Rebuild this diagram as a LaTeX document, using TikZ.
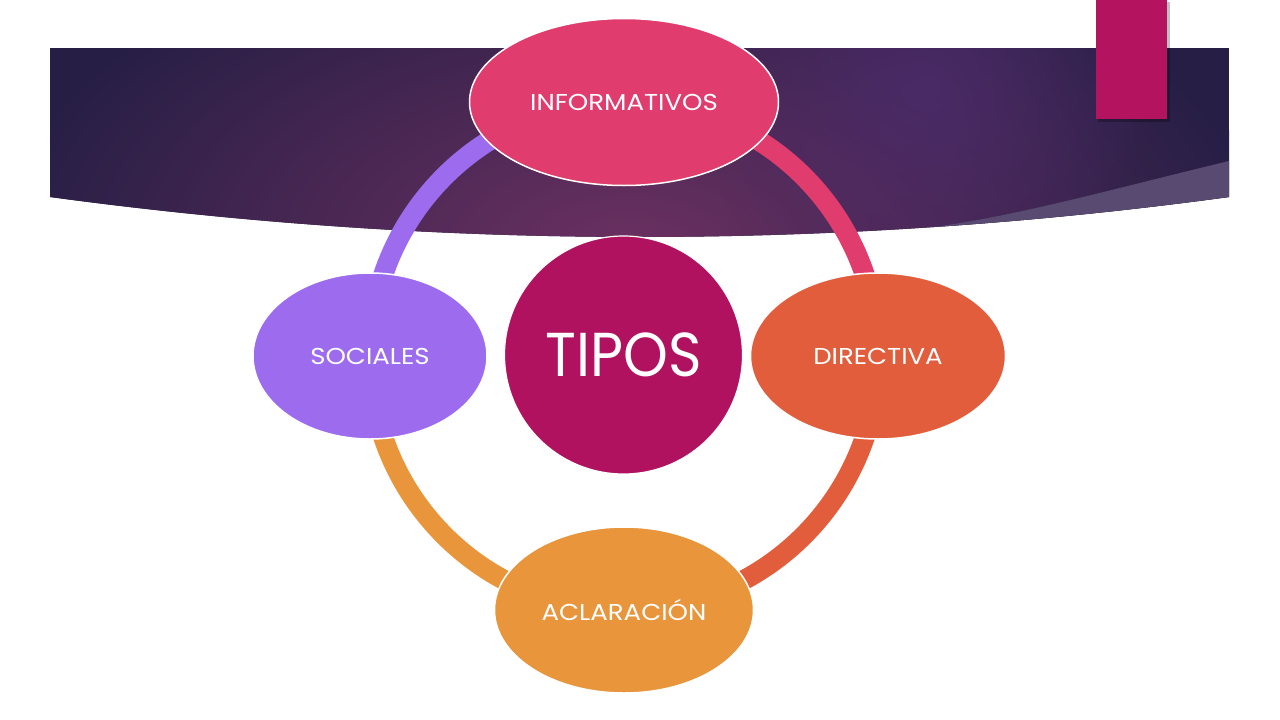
\documentclass[tikz,border=0pt]{standalone}
\usepackage{fontspec}
\setmainfont{Poppins}
\usetikzlibrary{shapes.geometric,fadings}
\definecolor{cinfo}{HTML}{E13C6E}
\definecolor{cdir}{HTML}{E25D3B}
\definecolor{cacl}{HTML}{E8953B}
\definecolor{csoc}{HTML}{9C6BEE}
\definecolor{ctipos}{HTML}{B01260}
\definecolor{cmag}{HTML}{B3135F}
\definecolor{cdark}{HTML}{261E45}
\definecolor{cglow}{HTML}{4E2C6C}
\definecolor{cswoosh}{HTML}{584A70}
\pgfdeclareradialshading{bannerglow}{\pgfpointorigin}{rgb(0bp)=(0.42,0.19,0.38); rgb(25bp)=(0.149,0.118,0.271); rgb(50bp)=(0.149,0.118,0.271)}
\tikzfading[name=softglow, inner color=transparent!0, outer color=transparent!100]
\pgfdeclarelayer{back}
\pgfdeclarelayer{ringlayer}
\pgfsetlayers{back,ringlayer,main}
\tikzset{
  bubble/.style={ellipse, draw=white, line width=1.5pt, inner sep=0pt, text=white, font=\fontsize{23}{27}\selectfont},
  ringseg/.style={line width=20pt},
}
\newcommand{\wlab}[1]{\scalebox{1.13}[1]{#1}}
\begin{document}
\begin{tikzpicture}[x=1pt,y=-1pt]
\useasboundingbox (0,0) rectangle (1280,720);
% nodes
\node[bubble, fill=cinfo, minimum width=309pt, minimum height=167pt] (info) at (624,102) {\wlab{INFORMATIVOS}};
\node[bubble, fill=cdir, minimum width=255pt, minimum height=166pt] (dir) at (878,356) {\wlab{DIRECTIVA}};
\node[bubble, fill=cacl, minimum width=259pt, minimum height=166pt] (acl) at (624,610) {\wlab{ACLARACIÓN}};
\node[bubble, fill=csoc, minimum width=234pt, minimum height=166pt] (soc) at (370,356) {\wlab{SOCIALES}};
\node[circle, draw=white, line width=1.2pt, fill=ctipos, minimum size=238pt, inner sep=0pt, text=white, font=\fontsize{62}{70}\selectfont] (tipos) at (623.5,355) {\scalebox{0.92}[1]{TIPOS}};
% ring
\begin{pgfonlayer}{ringlayer}
\draw[ringseg, cinfo] (info.center) arc[start angle=-90, end angle=0, radius=254];
\draw[ringseg, cdir] (dir.center) arc[start angle=0, end angle=90, radius=254];
\draw[ringseg, cacl] (acl.center) arc[start angle=90, end angle=180, radius=254];
\draw[ringseg, csoc] (soc.center) arc[start angle=180, end angle=270, radius=254];
\end{pgfonlayer}
% banner
\begin{pgfonlayer}{back}
\begin{scope}
\clip (50,48) -- (1229,48) -- (1229,197) .. controls (836.3,250.3) and (443.3,250.3) .. (50,197) -- cycle;
\fill[cdark] (50,48) rectangle (1229,280);
\shade[shading=bannerglow] (630,250) ellipse[x radius=640, y radius=340];
\fill[cglow, path fading=softglow, opacity=0.8] (925,88) circle[radius=230];
\fill[cswoosh] (1229,161) .. controls (1080,197) and (990,224) .. (880,233) -- (880,300) -- (1229,300) -- cycle;
\end{scope}
\fill[black, opacity=0.25] (1098,2) rectangle (1170,122);
\fill[cmag] (1096,0) rectangle (1167,119);
\end{pgfonlayer}
\end{tikzpicture}
\end{document}
